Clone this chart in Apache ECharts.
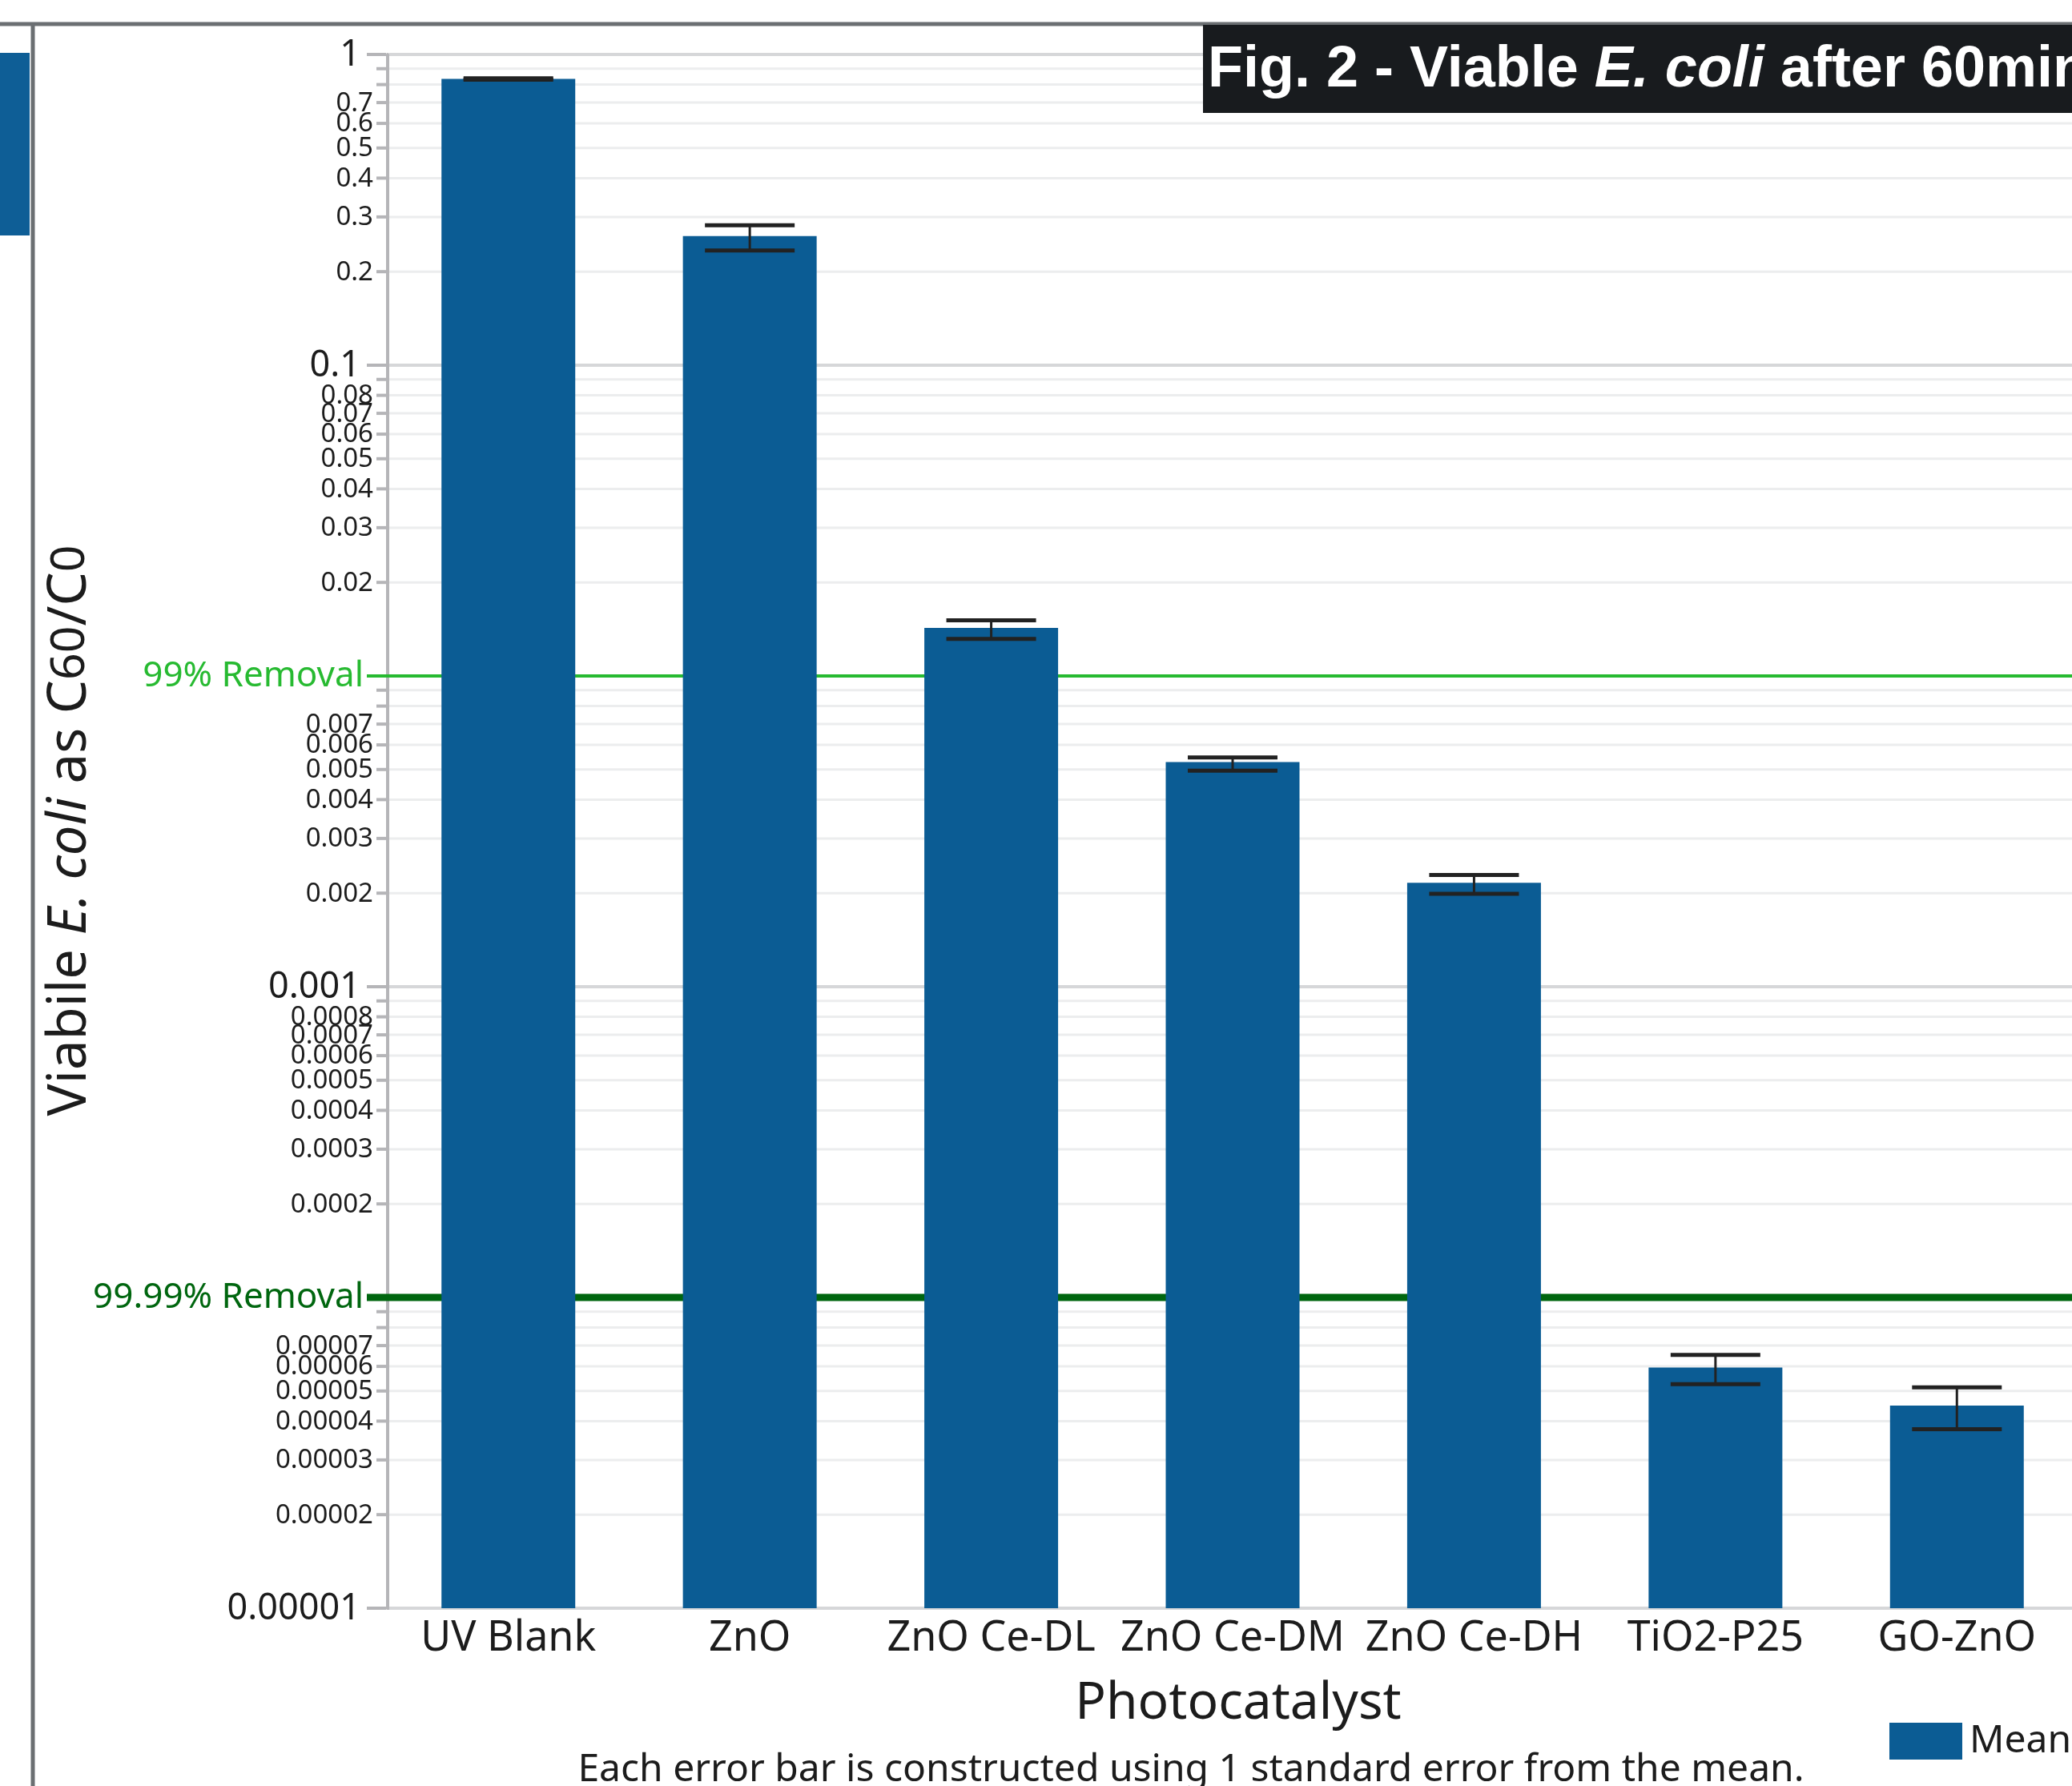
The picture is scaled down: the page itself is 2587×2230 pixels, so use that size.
<!DOCTYPE html>
<html><head><meta charset="utf-8">
<script src="https://cdn.jsdelivr.net/npm/echarts@6/dist/echarts.min.js"></script>
<style>html,body{margin:0;padding:0;background:#fff;overflow:hidden}#c{width:2610px;height:2230px}</style>
</head><body><div id="c"></div>
<script>
// ---- data ----
const categories = ['UV Blank', 'ZnO', 'ZnO Ce-DL', 'ZnO Ce-DM', 'ZnO Ce-DH', 'TiO2-P25', 'GO-ZnO'];
const meanValues = [0.834, 0.2604, 0.01427, 0.00528, 0.00216, 0.0000595, 0.0000449];
const errLower   = [0.830, 0.234, 0.01315, 0.00496, 0.00199, 0.0000526, 0.0000377];
const errUpper   = [0.838, 0.282, 0.0151, 0.00547, 0.00229, 0.0000653, 0.0000514];
const yMajorTicks  = [1, 0.1, 0.01, 0.001, 0.0001, 0.00001];
const yMajorLabels = ['1', '0.1', '', '0.001', '', '0.00001'];
const yMinorTicks = [0.9, 0.8, 0.7, 0.6, 0.5, 0.4, 0.3, 0.2,
  0.09, 0.08, 0.07, 0.06, 0.05, 0.04, 0.03, 0.02,
  0.009, 0.008, 0.007, 0.006, 0.005, 0.004, 0.003, 0.002,
  0.0009, 0.0008, 0.0007, 0.0006, 0.0005, 0.0004, 0.0003, 0.0002,
  0.00009, 0.00008, 0.00007, 0.00006, 0.00005, 0.00004, 0.00003, 0.00002];
const yMinorLabels = ['', '', '0.7', '0.6', '0.5', '0.4', '0.3', '0.2',
  '', '0.08', '0.07', '0.06', '0.05', '0.04', '0.03', '0.02',
  '', '', '0.007', '0.006', '0.005', '0.004', '0.003', '0.002',
  '', '0.0008', '0.0007', '0.0006', '0.0005', '0.0004', '0.0003', '0.0002',
  '', '', '0.00007', '0.00006', '0.00005', '0.00004', '0.00003', '0.00002'];
const refValues = [0.01, 0.0001];
const refLabels = ['99% Removal', '99.99% Removal'];
const refColors = ['#27BA31', '#00660F'];
const refWidths = [4, 9];

const FONT = 'Noto Sans';
const TXT = '#1c1c1c';
const chart = echarts.init(document.getElementById('c'), null, {renderer: 'canvas'});

function gridLineItem(color, width) {
  return function (params, api) {
    const cs = params.coordSys;
    const y = api.coord([0, api.value(1)])[1];
    return {type: 'line', silent: true,
      shape: {x1: cs.x + 2, y1: y, x2: cs.x + cs.width, y2: y},
      style: {stroke: color, lineWidth: width}};
  };
}

const option = {
  backgroundColor: '#ffffff',
  animation: false,
  grid: {left: 484, top: 68, width: 2110, height: 1940, containLabel: false},
  legend: {
    data: ['Mean'], left: 2354, top: 2145, itemWidth: 91, itemHeight: 46, icon: 'rect',
    textStyle: {fontSize: 48, color: TXT, fontFamily: FONT, padding: [0, 0, 0, 4]}
  },
  xAxis: {
    type: 'category', data: categories,
    axisTick: {show: false},
    axisLine: {lineStyle: {color: '#B5B5B8', width: 4}},
    axisLabel: {fontSize: 52, color: TXT, fontFamily: FONT, margin: 12, interval: 0}
  },
  yAxis: {
    type: 'log', logBase: 10, min: 0.00001, max: 1, startValue: 0.00001,
    axisLabel: {show: false}, axisTick: {show: false}, splitLine: {show: false},
    axisLine: {show: true, lineStyle: {color: '#B5B5B8', width: 4}}
  },
  graphic: [
    {type: 'rect', z: 100, shape: {x: 0, y: 66, width: 37, height: 228}, style: {fill: '#0E5E96'}, silent: true},
    {type: 'line', z: 100, shape: {x1: 0, y1: 30, x2: 2610, y2: 30}, style: {stroke: '#6B6F72', lineWidth: 5}, silent: true},
    {type: 'line', z: 100, shape: {x1: 41, y1: 28, x2: 41, y2: 2230}, style: {stroke: '#6B6F72', lineWidth: 5}, silent: true},
    {type: 'rect', z: 100, shape: {x: 1502, y: 31, width: 1110, height: 110}, style: {fill: '#181B1E'}, silent: true},
    {type: 'text', z: 101, x: 1508, y: 88, silent: true, style: {
      text: 'Fig. 2 - Viable {i|E. coli} after 60min',
      fill: '#fff', fontSize: 72, fontWeight: 'bold', fontFamily: 'Liberation Sans',
      align: 'left', verticalAlign: 'middle',
      rich: {i: {fontStyle: 'italic', fontWeight: 'bold', fontSize: 72, fontFamily: 'Liberation Sans', fill: '#fff'}}
    }},
    {type: 'text', z: 100, x: 88, y: 1037, rotation: Math.PI / 2, silent: true, style: {
      text: 'Viabile {i|E. coli} as C{s|60}/C{s|0}',
      fill: TXT, fontSize: 67, fontFamily: FONT, align: 'center', verticalAlign: 'middle',
      rich: {
        i: {fontStyle: 'italic', fontSize: 67, fontFamily: FONT, fill: TXT},
        s: {fontSize: 59, fontFamily: FONT, fill: TXT}
      }
    }},
    {type: 'text', z: 100, x: 1546, y: 2128, silent: true, style: {
      text: 'Photocatalyst', fill: TXT, fontSize: 64, fontFamily: FONT, align: 'center', verticalAlign: 'middle'}},
    {type: 'text', z: 100, x: 1487, y: 2210, silent: true, style: {
      text: 'Each error bar is constructed using 1 standard error from the mean.',
      fill: TXT, fontSize: 48, fontFamily: FONT, align: 'center', verticalAlign: 'middle'}}
  ],
  series: [
    {type: 'custom', name: 'minorGrid', z: 1, silent: true, clip: false,
      data: yMinorTicks.map(v => [0, v]), encode: {x: 0, y: 1},
      renderItem: gridLineItem('#ECEDEE', 3)},
    {type: 'custom', name: 'majorGrid', z: 1, silent: true, clip: false,
      data: yMajorTicks.map(v => [0, v]), encode: {x: 0, y: 1},
      renderItem: gridLineItem('#D6D7D9', 4)},
    {type: 'custom', name: 'refLines', z: 2, silent: true, clip: false,
      data: refValues.map(v => [0, v]), encode: {x: 0, y: 1},
      renderItem: function (params, api) {
        const i = params.dataIndex;
        const cs = params.coordSys;
        const y = api.coord([0, api.value(1)])[1];
        return {type: 'group', children: [
          {type: 'line', shape: {x1: cs.x - 26, y1: y, x2: cs.x + cs.width, y2: y},
            style: {stroke: refColors[i], lineWidth: refWidths[i]}},
          {type: 'text', x: cs.x - 30, y: y, style: {text: refLabels[i], fill: refColors[i],
            fontSize: 44, fontFamily: FONT, align: 'right', verticalAlign: 'middle'}}
        ]};
      }},
    {type: 'bar', name: 'Mean', data: meanValues, barWidth: 167, z: 3,
      itemStyle: {color: '#0B5C94'}, silent: true},
    {type: 'custom', name: 'errorBars', z: 4, silent: true, clip: false,
      data: categories.map((c, i) => [i, errLower[i], errUpper[i]]),
      encode: {x: 0, y: [1, 2]},
      renderItem: function (params, api) {
        const lo = api.coord([api.value(0), api.value(1)]);
        const hi = api.coord([api.value(0), api.value(2)]);
        const half = 56;
        const st = {stroke: '#222222', lineWidth: 5};
        return {type: 'group', children: [
          {type: 'line', shape: {x1: lo[0], y1: lo[1], x2: hi[0], y2: hi[1]}, style: {stroke: '#222222', lineWidth: 3}},
          {type: 'line', shape: {x1: lo[0] - half, y1: lo[1], x2: lo[0] + half, y2: lo[1]}, style: st},
          {type: 'line', shape: {x1: hi[0] - half, y1: hi[1], x2: hi[0] + half, y2: hi[1]}, style: st}
        ]};
      }},
    {type: 'custom', name: 'minorTicks', z: 5, silent: true, clip: false,
      data: yMinorTicks.map(v => [0, v]), encode: {x: 0, y: 1},
      renderItem: function (params, api) {
        const i = params.dataIndex;
        const cs = params.coordSys;
        const y = api.coord([0, api.value(1)])[1];
        const ch = [{type: 'line', shape: {x1: cs.x - 14, y1: y, x2: cs.x - 2, y2: y},
          style: {stroke: '#B5B5B8', lineWidth: 4}}];
        if (yMinorLabels[i]) {
          ch.push({type: 'text', x: cs.x - 18, y: y + 1, style: {text: yMinorLabels[i], fill: TXT,
            fontSize: 33, fontFamily: FONT, align: 'right', verticalAlign: 'middle'}});
        }
        return {type: 'group', children: ch};
      }},
    {type: 'custom', name: 'majorTicks', z: 5, silent: true, clip: false,
      data: yMajorTicks.map(v => [0, v]), encode: {x: 0, y: 1},
      renderItem: function (params, api) {
        const i = params.dataIndex;
        const cs = params.coordSys;
        const v = api.value(1);
        const y = api.coord([0, v])[1];
        const ch = [];
        if (refValues.indexOf(yMajorTicks[i]) < 0) {
          ch.push({type: 'line', shape: {x1: cs.x - 26, y1: y, x2: cs.x - 2, y2: y},
            style: {stroke: '#B5B5B8', lineWidth: 4}});
        }
        if (yMajorLabels[i]) {
          ch.push({type: 'text', x: cs.x - 34, y: y + 1, style: {text: yMajorLabels[i], fill: TXT,
            fontSize: 45, fontFamily: FONT, align: 'right', verticalAlign: 'middle'}});
        }
        return {type: 'group', children: ch};
      }}
  ]
};
chart.setOption(option);
</script>
</body></html>
